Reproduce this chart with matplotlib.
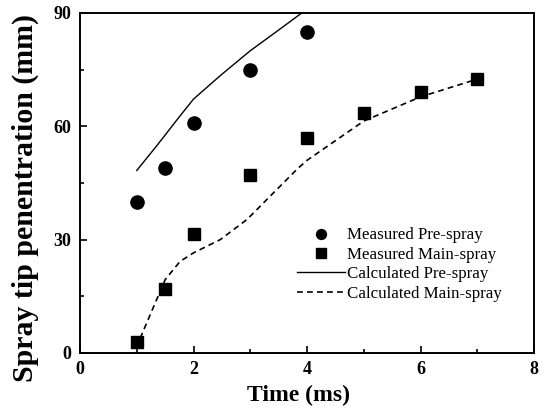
import matplotlib.pyplot as plt
from matplotlib.ticker import MultipleLocator

plt.rcParams['font.family'] = ['Liberation Serif', 'DejaVu Serif']

# Measured data
time_meas_pre = [1, 1.5, 2, 3, 4]
pen_meas_pre = [40, 49, 61, 75, 85]
time_meas_main = [1, 1.5, 2, 3, 4, 5, 6, 7]
pen_meas_main = [3, 17, 31.5, 47, 57, 63.5, 69, 72.5]

# Calculated curves
time_calc_pre = [1.0, 1.35, 1.76, 2.0, 2.47, 3.0, 3.52, 3.88, 4.0]
pen_calc_pre = [48.3, 54.8, 62.7, 67.2, 73.4, 80.0, 85.7, 89.7, 91.0]
time_calc_main = [1.06, 1.5, 1.76, 2.0, 2.47, 2.94, 3.29, 3.82, 4.0, 5.0, 6.0, 7.0]
pen_calc_main = [3.9, 19.4, 24.2, 26.5, 30.0, 35.3, 40.6, 48.6, 51.0, 61.4, 67.8, 72.5]

fig = plt.figure(figsize=(5.44, 4.17), dpi=100)
ax = fig.add_axes([0.147, 0.1535, 0.835, 0.8155])

ax.plot(time_meas_pre, pen_meas_pre, 'o', color='black', markersize=9.5,
        label='Measured Pre-spray')
ax.plot(time_meas_main, pen_meas_main, 's', color='black', markersize=9,
        label='Measured Main-spray')
ax.plot(time_calc_pre, pen_calc_pre, '-', color='black', linewidth=1.0,
        label='Calculated Pre-spray')
ax.plot(time_calc_main, pen_calc_main, '--', color='black', linewidth=1.2,
        dashes=(3.5, 2.5), label='Calculated Main-spray')

ax.set_xlim(0, 8)
ax.set_ylim(0, 90)
ax.xaxis.set_major_locator(MultipleLocator(2))
ax.xaxis.set_minor_locator(MultipleLocator(1))
ax.yaxis.set_major_locator(MultipleLocator(30))
ax.yaxis.set_minor_locator(MultipleLocator(15))
ax.tick_params(which='both', direction='in', top=False, right=False, width=1.2)
ax.tick_params(which='major', length=5, labelsize=13, pad=6)
ax.tick_params(which='minor', length=3)
for lab in ax.get_xticklabels() + ax.get_yticklabels():
    lab.set_fontweight('bold')
for s in ax.spines.values():
    s.set_linewidth(1.4)

ax.set_xlabel('Time (ms)', fontsize=17, fontweight='bold')
ax.set_ylabel('Spray tip penentration (mm)', fontsize=21.5, fontweight='bold')
ax.xaxis.set_label_coords(0.48, -0.095)
ax.yaxis.set_label_coords(-0.09, 0.455)

ax.legend(loc='center left', bbox_to_anchor=(0.478, 0.26), frameon=False,
          fontsize=12.2, handlelength=2.85, handletextpad=0.1, labelspacing=0.2,
          borderpad=0, borderaxespad=0, markerscale=0.75)

fig.savefig('out.png', dpi=100)
